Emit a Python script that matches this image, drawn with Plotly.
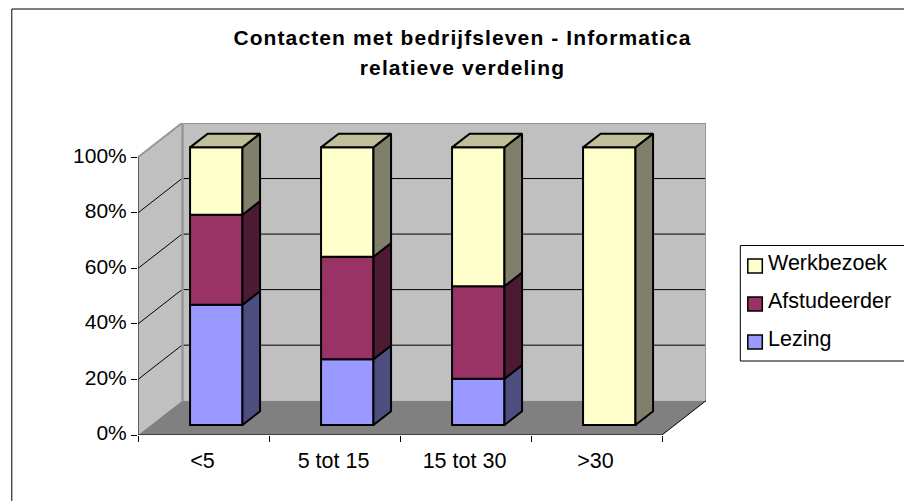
import plotly.graph_objects as go

categories = ["<5", "5 tot 15", "15 tot 30", ">30"]
lezing = [43.3, 23.7, 16.7, 0]
afstudeerder = [32.4, 36.9, 33.3, 0]
werkbezoek = [24.3, 39.4, 50.0, 100]
y_ticks = [0, 20, 40, 60, 80, 100]

series = [
    ("Lezing", lezing, "#9999FF", "#4D4D80"),
    ("Afstudeerder", afstudeerder, "#993366", "#4D1A33"),
    ("Werkbezoek", werkbezoek, "#FFFFCC", "#80806A"),
]
TOP_COLOR = "#BFBF99"
FONT = "Liberation Sans, Arial, sans-serif"

# pixel layout of the plot box (front plane + depth)
W, H = 904, 501
L, B = 137.7, 435.0
X_UNIT, Y_UNIT = 131.0, 2.777
DEPTH_PX_X, DEPTH_PX_Y = 44.0, 34.3
DX, DY = DEPTH_PX_X / X_UNIT, DEPTH_PX_Y / Y_UNIT  # full depth in data units
N = len(categories)
X_MAX, Y_MAX = N + DX, 100 + DY
R, T = L + X_MAX * X_UNIT, B - Y_MAX * Y_UNIT

BAR_W = 0.4
OFF_X, OFF_Y = 0.29 * DX, 0.29 * DY      # bar front offset into the depth
BAR_DX, BAR_DY = 0.40 * DX, 0.40 * DY    # bar depth
EDGE = 2

def px(x): return (x - L) / (R - L)
def py(y): return (B - y) / (B - T)

fig = go.Figure()
shapes = []

def poly(pts):
    return "M " + " L ".join(f"{a},{b}" for a, b in pts) + " Z"

# walls and floor
shapes.append(dict(type="path", layer="below", xref="x", yref="y", line_width=0, fillcolor="#C0C0C0",
                   path=poly([(DX, DY), (X_MAX, DY), (X_MAX, Y_MAX), (DX, Y_MAX)])))
shapes.append(dict(type="path", layer="below", xref="x", yref="y", line_width=0, fillcolor="#C0C0C0",
                   path=poly([(0, 0), (DX, DY), (DX, Y_MAX), (0, 100)])))
shapes.append(dict(type="path", layer="below", xref="x", yref="y", line_width=0, fillcolor="#808080",
                   path=poly([(0, 0), (N, 0), (X_MAX, DY), (DX, DY)])))
# gridlines
for v in y_ticks[1:-1]:
    shapes.append(dict(type="line", layer="below", xref="x", yref="y", x0=DX, x1=X_MAX, y0=v + DY, y1=v + DY,
                       line=dict(color="black", width=1)))
    shapes.append(dict(type="line", layer="below", xref="x", yref="y", x0=0, x1=DX, y0=v, y1=v + DY,
                       line=dict(color="black", width=1)))

def line_trace(xs, ys, color, width):
    fig.add_trace(go.Scatter(x=xs, y=ys, mode="lines", line=dict(color=color, width=width),
                             cliponaxis=False, showlegend=False, hoverinfo="skip"))

# gray wall edges
line_trace([0, DX, X_MAX, X_MAX], [100, Y_MAX, Y_MAX, DY], "#969696", 2)
line_trace([DX + 0.004, DX + 0.004], [DY, Y_MAX], "#969696", 2.5)
# axes
line_trace([0, 0], [0, 100], "black", 1)
line_trace([0, N, X_MAX], [0, 0, DY], "black", 1)

# bars
centers = [i + 0.5 + OFF_X for i in range(N)]
cum = [0.0] * N
for name, vals, col, dark in series:
    base = [c + OFF_Y for c in cum]
    xs, ys = [], []
    for i, v in enumerate(vals):
        if v <= 0:
            continue
        xr = centers[i] + BAR_W / 2
        xs += [xr, xr + BAR_DX, xr + BAR_DX, xr, xr, None]
        ys += [base[i], base[i] + BAR_DY, base[i] + v + BAR_DY, base[i] + v, base[i], None]
    fig.add_trace(go.Scatter(x=xs, y=ys, mode="lines", fill="toself", fillcolor=dark,
                             line=dict(color="black", width=EDGE), cliponaxis=False,
                             showlegend=False, hoverinfo="skip"))
    fig.add_trace(go.Bar(x=centers, y=vals, base=base, width=BAR_W, name=name, showlegend=False,
                         marker=dict(color=col, line=dict(color="black", width=EDGE))))
    cum = [c + v for c, v in zip(cum, vals)]

# bar tops
xs, ys = [], []
for i in range(N):
    xl, xr, y = centers[i] - BAR_W / 2, centers[i] + BAR_W / 2, cum[i] + OFF_Y
    xs += [xl, xr, xr + BAR_DX, xl + BAR_DX, xl, None]
    ys += [y, y, y + BAR_DY, y + BAR_DY, y, None]
fig.add_trace(go.Scatter(x=xs, y=ys, mode="lines", fill="toself", fillcolor=TOP_COLOR,
                         line=dict(color="black", width=EDGE), cliponaxis=False,
                         showlegend=False, hoverinfo="skip"))

# chart frame
for x0, y0, x1, y1 in [(11.5, 9, 11.5, H + 5), (11.5, 9, W + 5, 9)]:
    shapes.append(dict(type="line", xref="paper", yref="paper", x0=px(x0), x1=px(x1), y0=py(y0), y1=py(y1),
                       line=dict(color="black", width=1)))

# legend (top to bottom)
annotations = []
LEG_L, LEG_T, LEG_B = 740, 245.5, 361
for x0, y0, x1, y1 in [(LEG_L, LEG_T, W + 5, LEG_T), (LEG_L, LEG_T, LEG_L, LEG_B), (LEG_L, LEG_B, W + 5, LEG_B)]:
    shapes.append(dict(type="line", xref="paper", yref="paper", x0=px(x0), x1=px(x1), y0=py(y0), y1=py(y1),
                       line=dict(color="black", width=1)))
for k, (name, vals, col, dark) in enumerate(reversed(series)):
    yc = 266 + k * 38
    shapes.append(dict(type="rect", xref="paper", yref="paper", x0=px(747.5), x1=px(762), y0=py(yc - 7), y1=py(yc + 7),
                       fillcolor=col, line=dict(color="black", width=1.5)))
    annotations.append(dict(text=name, xref="paper", yref="paper", x=px(766), y=py(yc - 3), xanchor="left",
                            yanchor="middle", showarrow=False, font=dict(family=FONT, size=21.5, color="black")))

fig.update_layout(
    width=W, height=H, autosize=False, barmode="overlay", paper_bgcolor="white", plot_bgcolor="rgba(0,0,0,0)",
    margin=dict(l=L, r=W - R, t=T, b=H - B, pad=0), showlegend=False,
    font=dict(family=FONT, color="black"),
    title=dict(text="Contacten met bedrijfsleven - Informatica<br>relatieve verdeling",
               x=462.5 / W, xanchor="center", y=1 - 45 / H, yanchor="top",
               font=dict(family=FONT, size=21, color="black", weight="bold")),
    shapes=shapes, annotations=annotations,
    xaxis=dict(range=[0, X_MAX], tickmode="array", tickvals=[i + 0.5 for i in range(N)], ticktext=categories,
               ticks="outside", ticklen=6, tickcolor="rgba(0,0,0,0)", showgrid=False, zeroline=False, showline=False,
               ticklabelshift=-1, tickfont=dict(family=FONT, size=21.5, color="black"),
               minor=dict(tickvals=list(range(N + 1)), ticks="outside", ticklen=6, tickwidth=1, tickcolor="black",
                          showgrid=False)),
    yaxis=dict(range=[0, Y_MAX], tickmode="array", tickvals=y_ticks, ticktext=[f"{v}%" for v in y_ticks],
               ticks="outside", ticklen=6, tickwidth=1, tickcolor="black", showgrid=False, zeroline=False,
               showline=False, ticklabelshift=-2, tickfont=dict(family=FONT, size=21, color="black")),
)

post = """
document.body.style.margin='0';
document.querySelectorAll('.gtitle').forEach(function(t){
  t.style.letterSpacing='1.1px';
  var lines=t.querySelectorAll('tspan.line');
  if(lines.length>1){lines[1].setAttribute('y', parseFloat(lines[1].getAttribute('y'))+3);}
});
"""
fig.write_html("out.html", post_script=post, config={"displayModeBar": False})
